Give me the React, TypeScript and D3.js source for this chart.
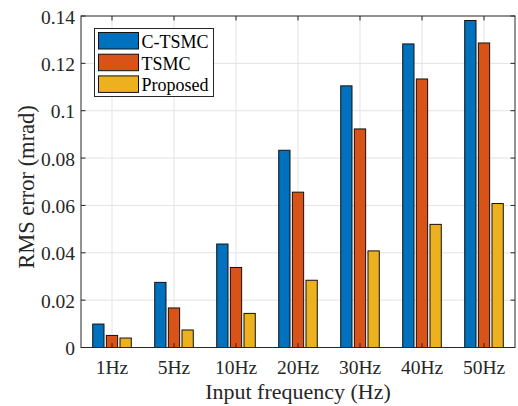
import React from "react";
import * as d3 from "d3";

const categories = ["1Hz", "5Hz", "10Hz", "20Hz", "30Hz", "40Hz", "50Hz"];
const seriesNames = ["C-TSMC", "TSMC", "Proposed"];
const cTsmc = [0.0099, 0.0275, 0.0437, 0.0833, 0.1105, 0.1282, 0.1381];
const tsmc = [0.0051, 0.0167, 0.0338, 0.0656, 0.0923, 0.1134, 0.1286];
const proposed = [0.004, 0.0074, 0.0144, 0.0284, 0.0408, 0.052, 0.0608];
const yTicks = [0, 0.02, 0.04, 0.06, 0.08, 0.1, 0.12, 0.14];
const yTickLabels = ["0", "0.02", "0.04", "0.06", "0.08", "0.1", "0.12", "0.14"];
const colors = ["#0072BD", "#D95319", "#EDB120"];

const W = 518;
const H = 406;
const M = { left: 81, top: 16, right: 515, bottom: 347.5 };
const FONT = "'Liberation Serif', 'Times New Roman', serif";
const TXT = "#262626";

export default function App() {
  const series = [cTsmc, tsmc, proposed];
  const x = d3
    .scaleLinear()
    .domain([0.5, categories.length + 0.5])
    .range([M.left, M.right]);
  const y = d3.scaleLinear().domain([0, 0.14]).range([M.bottom, M.top]);
  const step = x(2) - x(1);
  const offset = step * 0.22;
  const barW = step * 0.182;
  const tickLen = 4.5;

  return (
    <svg
      width={W}
      height={H}
      style={{ position: "absolute", left: 0, top: 0, background: "#fff" }}
      fontFamily={FONT}
    >
      {/* grid */}
      <g stroke="#e3e3e3" strokeWidth={1}>
        {yTicks.slice(1, -1).map((t) => (
          <line key={"gy" + t} x1={M.left} x2={M.right} y1={y(t)} y2={y(t)} />
        ))}
        {categories.map((c, i) => (
          <line key={"gx" + c} x1={x(i + 1)} x2={x(i + 1)} y1={M.top} y2={M.bottom} />
        ))}
      </g>

      {/* bars */}
      {series.map((vals, s) => (
        <g key={seriesNames[s]} fill={colors[s]} stroke="#111" strokeWidth={1}>
          {vals.map((v, i) => {
            const cx = x(i + 1) + (s - 1) * offset;
            return (
              <rect
                key={categories[i]}
                x={cx - barW / 2}
                y={y(v)}
                width={barW}
                height={y(0) - y(v)}
              />
            );
          })}
        </g>
      ))}

      {/* box & ticks */}
      <g stroke={TXT} strokeWidth={1} fill="none">
        <rect x={M.left} y={M.top} width={M.right - M.left} height={M.bottom - M.top} />
        {yTicks.map((t) => (
          <g key={"ty" + t}>
            <line x1={M.left} x2={M.left + tickLen} y1={y(t)} y2={y(t)} />
            <line x1={M.right} x2={M.right - tickLen} y1={y(t)} y2={y(t)} />
          </g>
        ))}
        {categories.map((c, i) => (
          <g key={"tx" + c}>
            <line x1={x(i + 1)} x2={x(i + 1)} y1={M.bottom} y2={M.bottom - tickLen} />
            <line x1={x(i + 1)} x2={x(i + 1)} y1={M.top} y2={M.top + tickLen} />
          </g>
        ))}
      </g>

      {/* tick labels */}
      <g fill={TXT} fontSize={19.5}>
        {yTicks.map((t, i) => (
          <text key={"ly" + t} x={M.left - 6} y={y(t) + 7.5} textAnchor="end">
            {yTickLabels[i]}
          </text>
        ))}
        {categories.map((c, i) => (
          <text key={"lx" + c} x={x(i + 1)} y={373.5} textAnchor="middle">
            {c}
          </text>
        ))}
      </g>

      {/* axis titles */}
      <text x={(M.left + M.right) / 2} y={398.5} textAnchor="middle" fontSize={22} fill={TXT}>
        Input frequency (Hz)
      </text>
      <text
        transform={`translate(33.5,187) rotate(-90)`}
        textAnchor="middle"
        fontSize={22.5}
        fill={TXT}
      >
        RMS error (mrad)
      </text>

      {/* legend */}
      <g>
        <rect x={94.5} y={28.5} width={119} height={68} fill="#fff" stroke={TXT} strokeWidth={1} />
        {seriesNames.map((n, i) => (
          <g key={n}>
            <rect
              x={98.5}
              y={32.5 + i * 21.7}
              width={40}
              height={16.5}
              fill={colors[i]}
              stroke="#111"
              strokeWidth={1}
            />
            <text x={141.5} y={48 + i * 21.5} fontSize={18} fill="#000">
              {n}
            </text>
          </g>
        ))}
      </g>
    </svg>
  );
}
